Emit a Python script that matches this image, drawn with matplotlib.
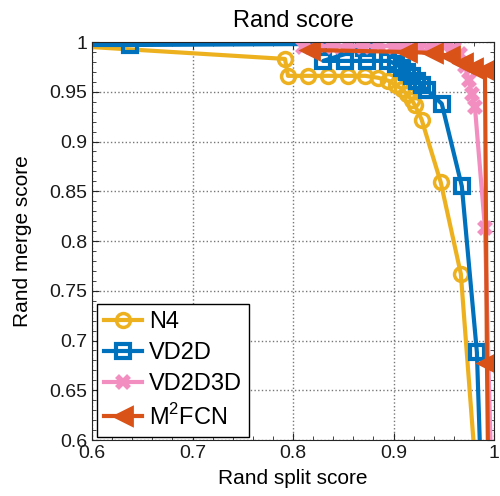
import matplotlib
matplotlib.use('Agg')
import matplotlib.pyplot as plt
from matplotlib.ticker import MultipleLocator

plt.rcParams['font.family'] = ['Liberation Sans', 'DejaVu Sans']
plt.rcParams['mathtext.fontset'] = 'custom'
plt.rcParams['mathtext.rm'] = 'Liberation Sans'

# N4
n4_x = [0.55, 0.792, 0.795, 0.815, 0.835, 0.855, 0.872, 0.885, 0.895, 0.902,
        0.908, 0.913, 0.918, 0.921, 0.928, 0.947, 0.967, 0.987]
n4_y = [0.998, 0.983, 0.966, 0.966, 0.966, 0.966, 0.966, 0.964, 0.961, 0.957,
        0.953, 0.948, 0.942, 0.937, 0.922, 0.859, 0.767, 0.5]

# VD2D
vd2d_x = [0.5, 0.638, 0.825, 0.871, 0.83, 0.852, 0.874, 0.895, 0.902, 0.908,
          0.913, 0.918, 0.923, 0.928, 0.933, 0.948, 0.968, 0.983, 0.989]
vd2d_y = [0.997, 0.997, 0.998, 0.994, 0.981, 0.981, 0.981, 0.981, 0.978, 0.974,
          0.970, 0.966, 0.961, 0.957, 0.952, 0.938, 0.855, 0.688, 0.5]

# VD2D3D
vd3_x = [0.81, 0.825, 0.84, 0.855, 0.87, 0.885, 0.9, 0.912, 0.925, 0.938,
         0.95, 0.96, 0.966, 0.971, 0.975, 0.978, 0.981, 0.991, 0.999]
vd3_y = [0.995, 0.997, 0.995, 0.997, 0.995, 0.997, 0.995, 0.997, 0.995, 0.997,
         0.996, 0.994, 0.988, 0.976, 0.962, 0.948, 0.935, 0.813, 0.5]

# M2FCN
m2_x = [0.817, 0.913, 0.939, 0.956, 0.969, 0.979, 0.991, 0.993, 0.995]
m2_y = [0.992, 0.990, 0.989, 0.986, 0.979, 0.974, 0.972, 0.677, 0.5]

fig = plt.figure(figsize=(5, 4.96), dpi=100)
ax = fig.add_axes([0.184, 0.1129, 0.804, 0.8024])

ax.plot(n4_x, n4_y, '-o', color='#EDB120', lw=3, ms=10, mew=2.5,
        mfc='none', label='N4')
ax.plot(vd2d_x, vd2d_y, '-s', color='#0072BD', lw=3, ms=10, mew=3,
        mfc='none', label='VD2D')
ax.plot(vd3_x, vd3_y, '-x', color='#F28EC0', lw=3, ms=8, mew=4,
        label='VD2D3D')
ax.plot(m2_x, m2_y, '-<', color='#D95319', lw=3, ms=13, mew=2,
        label='M$^2$FCN')

ax.set_xlim(0.6, 1.0)
ax.set_ylim(0.6, 1.0)
ax.yaxis.set_minor_locator(MultipleLocator(0.01))
ax.xaxis.set_minor_locator(MultipleLocator(0.02))
ax.set_xticks([0.6, 0.7, 0.8, 0.9, 1.0])
ax.set_xticklabels(['0.6', '0.7', '0.8', '0.9', '1'])
ax.set_yticks([0.6, 0.65, 0.7, 0.75, 0.8, 0.85, 0.9, 0.95, 1.0])
ax.set_yticklabels(['0.6', '0.65', '0.7', '0.75', '0.8', '0.85', '0.9', '0.95', '1'])
ax.tick_params(which='both', direction='in', top=True, right=True,
               colors='#262626', labelcolor='#1a1a1a', labelsize=14)
ax.tick_params(which='major', length=5)
ax.tick_params(which='minor', length=3)
ax.grid(True, which='major', linestyle=':', color='#777777', lw=1)
for s in ax.spines.values():
    s.set_color('#262626')

ax.set_title('Rand score', fontsize=17, pad=11)
ax.set_xlabel('Rand split score', fontsize=15, labelpad=5)
ax.set_ylabel('Rand merge score', fontsize=15, labelpad=12)

leg = ax.legend(loc='lower left', bbox_to_anchor=(0.012, 0.008), fontsize=17,
                fancybox=False, edgecolor='black', framealpha=1,
                handlelength=1.6, labelspacing=0.38, borderpad=0.3,
                handletextpad=0.3, borderaxespad=0)
leg.get_frame().set_linewidth(1)

fig.savefig('out.png', dpi=100)
